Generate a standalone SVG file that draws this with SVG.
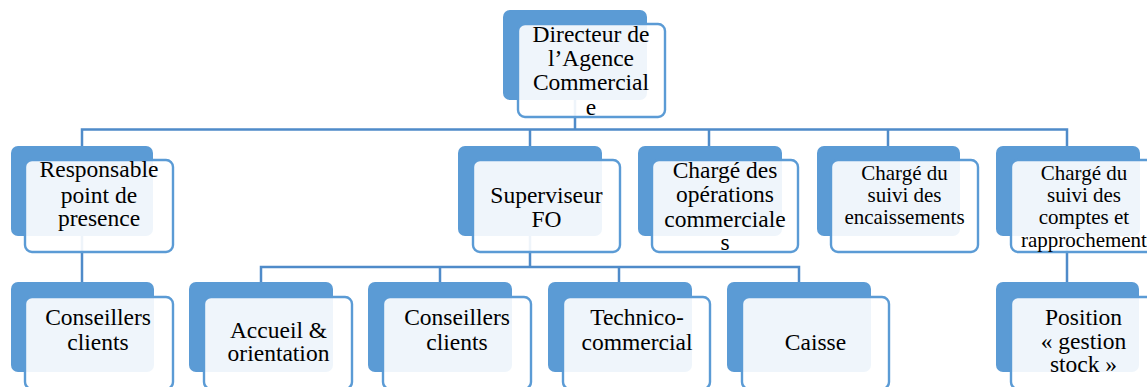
<svg xmlns="http://www.w3.org/2000/svg" width="1147" height="387" viewBox="0 0 1147 387">
<style>
.back{fill:#5B9BD5;}
.front{fill:#FFFFFF;fill-opacity:0.9;stroke:#5B9BD5;stroke-width:2.4;}
.conn{fill:none;stroke:#4F8BC9;stroke-width:2.5;}
text{font-family:"Liberation Serif","Times New Roman",serif;font-size:23.5px;fill:#000;text-anchor:middle;}
text.s{font-size:21px;}
</style>
<rect width="1147" height="387" fill="#FFFFFF"/>
<g id="connectors">
<path class="conn" d="M575,60 V129.5 M82,146 V129.5 H1067 V190 M530,146 V129.5 M709,146 V129.5 M888,146 V129.5"/>
<path class="conn" d="M82,190 V282 M1067,190 V282 M530,190 V267 M261,282 V267 H799 V282 M440,267 V282 M619,267 V282"/>
</g>
<g id="n-directeur">
<rect class="back" x="503" y="10" width="144" height="90" rx="7"/>
<rect class="front" x="518" y="24" width="147" height="93" rx="7"/>
<text x="591" y="42">Directeur de</text>
<text x="591" y="66">l’Agence</text>
<text x="591" y="90">Commercial</text>
<text x="591" y="115">e</text>
</g>
<g id="n-responsable">
<rect class="back" x="11" y="146" width="142" height="90" rx="7"/>
<rect class="front" x="25" y="160" width="148" height="92" rx="7"/>
<text x="99" y="177">Responsable</text>
<text x="99" y="202.5">point de</text>
<text x="99" y="226">presence</text>
</g>
<g id="n-superviseur">
<rect class="back" x="458" y="146" width="144" height="90" rx="7"/>
<rect class="front" x="473" y="160" width="147" height="92" rx="7"/>
<text x="546.5" y="202.5">Superviseur</text>
<text x="546.5" y="226.5">FO</text>
</g>
<g id="n-operations">
<rect class="back" x="638" y="146" width="144" height="90" rx="7"/>
<rect class="front" x="652" y="160" width="146" height="92" rx="7"/>
<text x="725" y="178">Chargé des</text>
<text x="725" y="202">opérations</text>
<text x="725" y="226.5">commerciale</text>
<text x="725" y="250">s</text>
</g>
<g id="n-encaissements">
<rect class="back" x="817" y="146" width="143" height="90" rx="7"/>
<rect class="front" x="831" y="160" width="147" height="92" rx="7"/>
<text class="s" x="904.5" y="180">Chargé du</text>
<text class="s" x="904.5" y="202">suivi des</text>
<text class="s" x="904.5" y="224">encaissements</text>
</g>
<g id="n-comptes">
<rect class="back" x="996" y="146" width="144" height="90" rx="7"/>
<rect class="front" x="1011" y="160" width="147" height="92" rx="7"/>
<text class="s" x="1084" y="180">Chargé du</text>
<text class="s" x="1084" y="202">suivi des</text>
<text class="s" x="1084" y="224">comptes et</text>
<text class="s" x="1084" y="246.5">rapprochement</text>
</g>
<g id="n-conseillers1">
<rect class="back" x="11" y="282" width="143" height="90" rx="7"/>
<rect class="front" x="25" y="297" width="148" height="92" rx="7"/>
<text x="98" y="325">Conseillers</text>
<text x="98" y="349.5">clients</text>
</g>
<g id="n-accueil">
<rect class="back" x="189" y="282" width="144" height="90" rx="7"/>
<rect class="front" x="204" y="297" width="148" height="92" rx="7"/>
<text x="278.5" y="337.5">Accueil &amp;</text>
<text x="278.5" y="361">orientation</text>
</g>
<g id="n-conseillers2">
<rect class="back" x="368" y="282" width="144" height="90" rx="7"/>
<rect class="front" x="383" y="297" width="148" height="92" rx="7"/>
<text x="457" y="325">Conseillers</text>
<text x="457" y="349.5">clients</text>
</g>
<g id="n-technico">
<rect class="back" x="548" y="282" width="144" height="90" rx="7"/>
<rect class="front" x="563" y="297" width="147" height="92" rx="7"/>
<text x="637" y="325">Technico-</text>
<text x="637" y="349.5">commercial</text>
</g>
<g id="n-caisse">
<rect class="back" x="727" y="282" width="144" height="90" rx="7"/>
<rect class="front" x="742" y="297" width="147" height="92" rx="7"/>
<text x="815.5" y="350">Caisse</text>
</g>
<g id="n-position">
<rect class="back" x="996" y="282" width="143" height="90" rx="7"/>
<rect class="front" x="1011" y="297" width="147" height="92" rx="7"/>
<text x="1083.5" y="325">Position</text>
<text x="1083.5" y="349">« gestion</text>
<text x="1083.5" y="372">stock »</text>
</g>
</svg>
